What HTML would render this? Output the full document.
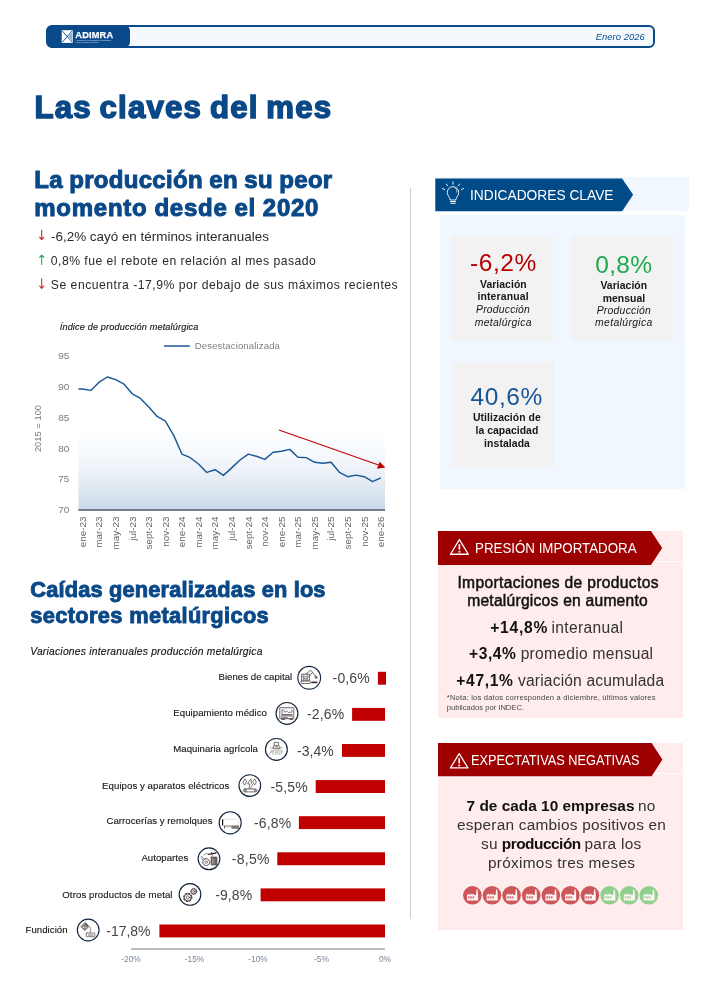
<!DOCTYPE html>
<html lang="es"><head><meta charset="utf-8"><title>Las claves del mes</title>
<style>
html,body{margin:0;padding:0;background:#fff}
body{width:702px;height:989px;position:relative;overflow:hidden;font-family:"Liberation Sans",sans-serif}
.abs{position:absolute}
.t{position:absolute;white-space:nowrap;margin:0}
.t b{font-weight:700;color:#111}
.bar{position:absolute;height:12.8px;background:#c00000}
.card{position:absolute;background:#f2f2f2}
</style></head><body>
<!-- header -->
<div class="abs" style="left:46px;top:25px;width:609px;height:23px;box-sizing:border-box;border:2px solid #0a4a8b;border-radius:6px;background:#f4f9fe"></div>
<div class="abs" style="left:46px;top:25px;width:84px;height:23px;background:#0a4a8b;border-radius:8px 6px 6px 8px"></div>
<svg class="abs" style="left:61px;top:30px" width="13" height="13" viewBox="0 0 13 13"><rect x="0.7" y="0.2" width="11.1" height="12.7" fill="#fff"/><path d="M11.2 2.2 7.4 6.5 11.2 10.8z" fill="#0a4a8b" opacity="0.45"/><path d="M1.3 0.9 11.2 12.2M11.2 0.9 1.3 12.2" stroke="#0a4a8b" stroke-width="0.9"/></svg>
<div class="t" style="left:75.3px;top:30px;font-size:9.2px;font-weight:700;color:#fff;line-height:1.2;letter-spacing:0.2px;-webkit-text-stroke:0.25px #fff">ADIMRA</div>
<div class="t" style="left:75.8px;top:38.5px;font-size:2px;color:#d5e1ef;line-height:1.2">Asociación de Industriales Metalúrgicos</div>
<div class="t" style="left:75.8px;top:40.5px;font-size:2px;color:#d5e1ef;line-height:1.2">de la República Argentina</div>
<!-- separator -->
<div class="abs" style="left:410px;top:188px;width:1px;height:731px;background:#cfcfcf"></div>
<!-- bullets arrows -->
<svg class="abs" style="left:36px;top:226px" width="12" height="70" viewBox="36 226 12 70" fill="none" stroke-width="1.05" stroke-linecap="round" stroke-linejoin="round">
<path d="M41.7 230v9.4M39.6 237.2l2.1 2.4 2.1-2.4" stroke="#d02020"/>
<path d="M41.7 264.4v-9.2M39.6 257.4l2.1-2.4 2.1 2.4" stroke="#1faa4f"/>
<path d="M41.7 278.8v9.4M39.6 286l2.1 2.4 2.1-2.4" stroke="#d02020"/>
</svg>
<svg class="abs" style="left:0;top:300px" width="420" height="270" viewBox="0 300 420 270">
<defs><linearGradient id="g1" x1="0" y1="0" x2="0" y2="1"><stop offset="0" stop-color="#fdfeff"/><stop offset="0.3" stop-color="#f6f9fc"/><stop offset="0.55" stop-color="#eaf0f6"/><stop offset="0.8" stop-color="#dae5ef"/><stop offset="1" stop-color="#c8d9e8"/></linearGradient></defs>
<rect x="78.4" y="431.5" width="306.6" height="78" fill="url(#g1)"/>
<rect x="78.4" y="509.1" width="306.6" height="1.8" fill="#69727e"/>
<line x1="164" y1="346" x2="189.8" y2="346" stroke="#1c5797" stroke-width="1.5"/>
<polyline points="78.4,389.0 82.5,389.0 90.8,390.4 99.1,382.2 107.4,377.0 115.7,379.6 124.0,384.2 132.3,393.8 140.5,398.4 148.8,407.0 157.1,416.4 165.4,421.2 173.7,435.4 182.0,454.2 190.3,457.7 198.5,464.0 206.8,472.4 215.1,469.7 223.4,475.4 231.7,467.9 240.0,460.0 248.3,454.1 256.5,456.3 264.8,459.4 273.1,452.2 281.4,451.3 289.7,449.4 298.0,457.2 306.3,457.6 314.6,462.3 322.8,463.2 331.1,462.3 339.4,472.3 347.7,476.7 356.0,475.1 364.3,476.7 372.6,481.7 380.8,477.9" fill="none" stroke="#1a5896" stroke-width="1.45" stroke-linejoin="round"/>
<line x1="279" y1="430" x2="378.5" y2="464.9" stroke="#c00000" stroke-width="1.05"/>
<polygon points="385.4,467.4 379.6,461.7 376.9,468.8" fill="#c00000"/>
<g font-family="'Liberation Sans', sans-serif" font-size="9.5" fill="#7a7a7a"><text x="58.2" y="359.1" textLength="11.2" lengthAdjust="spacingAndGlyphs">95</text><text x="58.2" y="390.4" textLength="11.2" lengthAdjust="spacingAndGlyphs">90</text><text x="58.2" y="421.2" textLength="11.2" lengthAdjust="spacingAndGlyphs">85</text><text x="58.2" y="451.9" textLength="11.2" lengthAdjust="spacingAndGlyphs">80</text><text x="58.2" y="482.4" textLength="11.2" lengthAdjust="spacingAndGlyphs">75</text><text x="58.2" y="513.2" textLength="11.2" lengthAdjust="spacingAndGlyphs">70</text>
<text transform="translate(41.2,428.5) rotate(-90)" text-anchor="middle" font-size="9.4">2015 = 100</text>
</g>
<g font-family="'Liberation Sans', sans-serif" font-size="9.9" fill="#666666"><text transform="translate(85.8,516.5) rotate(-90)" text-anchor="end">ene-23</text><text transform="translate(102.4,516.5) rotate(-90)" text-anchor="end">mar-23</text><text transform="translate(119.0,516.5) rotate(-90)" text-anchor="end">may-23</text><text transform="translate(135.6,516.5) rotate(-90)" text-anchor="end">jul-23</text><text transform="translate(152.1,516.5) rotate(-90)" text-anchor="end">sept-23</text><text transform="translate(168.7,516.5) rotate(-90)" text-anchor="end">nov-23</text><text transform="translate(185.3,516.5) rotate(-90)" text-anchor="end">ene-24</text><text transform="translate(201.8,516.5) rotate(-90)" text-anchor="end">mar-24</text><text transform="translate(218.4,516.5) rotate(-90)" text-anchor="end">may-24</text><text transform="translate(235.0,516.5) rotate(-90)" text-anchor="end">jul-24</text><text transform="translate(251.6,516.5) rotate(-90)" text-anchor="end">sept-24</text><text transform="translate(268.1,516.5) rotate(-90)" text-anchor="end">nov-24</text><text transform="translate(284.7,516.5) rotate(-90)" text-anchor="end">ene-25</text><text transform="translate(301.3,516.5) rotate(-90)" text-anchor="end">mar-25</text><text transform="translate(317.9,516.5) rotate(-90)" text-anchor="end">may-25</text><text transform="translate(334.4,516.5) rotate(-90)" text-anchor="end">jul-25</text><text transform="translate(351.0,516.5) rotate(-90)" text-anchor="end">sept-25</text><text transform="translate(367.6,516.5) rotate(-90)" text-anchor="end">nov-25</text><text transform="translate(384.1,516.5) rotate(-90)" text-anchor="end">ene-26</text></g>
</svg>
<!-- right: indicadores -->
<div class="abs" style="left:435.3px;top:177.2px;width:253.6px;height:33.8px;background:#f0f7fe"></div>
<svg class="abs" style="left:435px;top:178px" width="200" height="34" viewBox="0 0 200 34"><path d="M0.3 0.4H187.1L198.1 16.8 187.1 33.2H0.3z" fill="#004a87"/>
<g transform="translate(-1 0.3)" fill="none" stroke="#fff" stroke-width="0.9" stroke-linecap="round"><path d="M21.3 9.6a3.6 3.6 0 0 1 1.6 4.2" stroke-width="0.7"/><path d="M16.2 21.3c0-2.2-2.9-3.6-2.9-7.2a5.7 5.7 0 0 1 11.4 0c0 3.6-2.9 5-2.9 7.2z"/><path d="M16.4 23.2h5.2M16.9 25h4.2" stroke-width="1.1"/><path d="M19 6V3.6M13.7 7.6l-1.4-1.9M24.3 7.6l1.4-1.9M10.6 11.3 8.4 10.2M27.4 11.3l2.2-1.1"/></g></svg>
<div class="abs" style="left:440.1px;top:215px;width:244.9px;height:274px;background:#f0f7fe"></div>
<div class="card" style="left:451px;top:236px;width:102.1px;height:105.3px"></div>
<div class="card" style="left:571px;top:236px;width:102.1px;height:105.3px"></div>
<div class="card" style="left:452.2px;top:362.2px;width:101.6px;height:105.3px"></div>
<!-- right: presion -->
<div class="abs" style="left:438px;top:531px;width:245px;height:30.3px;background:#ffecec"></div>
<div class="abs" style="left:438px;top:562.2px;width:245px;height:155.6px;background:#ffecec"></div>
<svg class="abs" style="left:438px;top:531px" width="226" height="34" viewBox="0 0 226 34"><path d="M0 0H213L224.2 17 213 34H0z" fill="#9c0000"/></svg>
<svg class="abs" style="left:449px;top:538.3px" width="20.8" height="17.7" viewBox="0 0 20 17"><path d="M10 1.6 18.6 15.6H1.4z" fill="none" stroke="#fff" stroke-width="1.25" stroke-linejoin="round"/><path d="M10 6v5.2" stroke="#fff" stroke-width="1.6"/><circle cx="10" cy="13.3" r="1" fill="#fff"/></svg>
<!-- right: expectativas -->
<div class="abs" style="left:438px;top:743px;width:245px;height:29.6px;background:#ffecec"></div>
<div class="abs" style="left:438px;top:774px;width:245px;height:155.8px;background:#ffecec"></div>
<svg class="abs" style="left:438px;top:743px" width="226" height="34" viewBox="0 0 226 34"><path d="M0 0H213.6L224.4 16.6 213.6 33.2H0z" fill="#9c0000"/></svg>
<svg class="abs" style="left:449px;top:751.8px" width="20.4" height="17.4" viewBox="0 0 20 17"><path d="M10 1.6 18.6 15.6H1.4z" fill="none" stroke="#fff" stroke-width="1.25" stroke-linejoin="round"/><path d="M10 6v5.2" stroke="#fff" stroke-width="1.6"/><circle cx="10" cy="13.3" r="1" fill="#fff"/></svg>
<svg class="abs" style="left:455px;top:880px" width="220" height="32" viewBox="455 880 220 32"><g transform="translate(472.4,895.3)"><circle r="9.3" fill="#cd565a"/><path d="M-5.4 5.2V-0.2l2.3-1.6v1.6l2.3-1.6v1.6l2.3-1.6v1.6h2.1L4.1-5.9h1.1L5.7-0.2V5.2z" fill="#fff5f5"/><path d="M-4.5 1h1.7v2.3h-1.7zM-2.2 1h1.7v2.3h-1.7zM0.1 1h1.7v2.3h-1.7z" fill="#cd565a" opacity="0.8"/></g><g transform="translate(492.0,895.3)"><circle r="9.3" fill="#cd565a"/><path d="M-5.4 5.2V-0.2l2.3-1.6v1.6l2.3-1.6v1.6l2.3-1.6v1.6h2.1L4.1-5.9h1.1L5.7-0.2V5.2z" fill="#fff5f5"/><path d="M-4.5 1h1.7v2.3h-1.7zM-2.2 1h1.7v2.3h-1.7zM0.1 1h1.7v2.3h-1.7z" fill="#cd565a" opacity="0.8"/></g><g transform="translate(511.6,895.3)"><circle r="9.3" fill="#cd565a"/><path d="M-5.4 5.2V-0.2l2.3-1.6v1.6l2.3-1.6v1.6l2.3-1.6v1.6h2.1L4.1-5.9h1.1L5.7-0.2V5.2z" fill="#fff5f5"/><path d="M-4.5 1h1.7v2.3h-1.7zM-2.2 1h1.7v2.3h-1.7zM0.1 1h1.7v2.3h-1.7z" fill="#cd565a" opacity="0.8"/></g><g transform="translate(531.2,895.3)"><circle r="9.3" fill="#cd565a"/><path d="M-5.4 5.2V-0.2l2.3-1.6v1.6l2.3-1.6v1.6l2.3-1.6v1.6h2.1L4.1-5.9h1.1L5.7-0.2V5.2z" fill="#fff5f5"/><path d="M-4.5 1h1.7v2.3h-1.7zM-2.2 1h1.7v2.3h-1.7zM0.1 1h1.7v2.3h-1.7z" fill="#cd565a" opacity="0.8"/></g><g transform="translate(550.8,895.3)"><circle r="9.3" fill="#cd565a"/><path d="M-5.4 5.2V-0.2l2.3-1.6v1.6l2.3-1.6v1.6l2.3-1.6v1.6h2.1L4.1-5.9h1.1L5.7-0.2V5.2z" fill="#fff5f5"/><path d="M-4.5 1h1.7v2.3h-1.7zM-2.2 1h1.7v2.3h-1.7zM0.1 1h1.7v2.3h-1.7z" fill="#cd565a" opacity="0.8"/></g><g transform="translate(570.4,895.3)"><circle r="9.3" fill="#cd565a"/><path d="M-5.4 5.2V-0.2l2.3-1.6v1.6l2.3-1.6v1.6l2.3-1.6v1.6h2.1L4.1-5.9h1.1L5.7-0.2V5.2z" fill="#fff5f5"/><path d="M-4.5 1h1.7v2.3h-1.7zM-2.2 1h1.7v2.3h-1.7zM0.1 1h1.7v2.3h-1.7z" fill="#cd565a" opacity="0.8"/></g><g transform="translate(590.0,895.3)"><circle r="9.3" fill="#cd565a"/><path d="M-5.4 5.2V-0.2l2.3-1.6v1.6l2.3-1.6v1.6l2.3-1.6v1.6h2.1L4.1-5.9h1.1L5.7-0.2V5.2z" fill="#fff5f5"/><path d="M-4.5 1h1.7v2.3h-1.7zM-2.2 1h1.7v2.3h-1.7zM0.1 1h1.7v2.3h-1.7z" fill="#cd565a" opacity="0.8"/></g><g transform="translate(609.6,895.3)"><circle r="9.3" fill="#8fd08d"/><path d="M-5.4 5.2V-0.2l2.3-1.6v1.6l2.3-1.6v1.6l2.3-1.6v1.6h2.1L4.1-5.9h1.1L5.7-0.2V5.2z" fill="#fff5f5"/><path d="M-4.5 1h1.7v2.3h-1.7zM-2.2 1h1.7v2.3h-1.7zM0.1 1h1.7v2.3h-1.7z" fill="#8fd08d" opacity="0.8"/></g><g transform="translate(629.2,895.3)"><circle r="9.3" fill="#8fd08d"/><path d="M-5.4 5.2V-0.2l2.3-1.6v1.6l2.3-1.6v1.6l2.3-1.6v1.6h2.1L4.1-5.9h1.1L5.7-0.2V5.2z" fill="#fff5f5"/><path d="M-4.5 1h1.7v2.3h-1.7zM-2.2 1h1.7v2.3h-1.7zM0.1 1h1.7v2.3h-1.7z" fill="#8fd08d" opacity="0.8"/></g><g transform="translate(648.8,895.3)"><circle r="9.3" fill="#8fd08d"/><path d="M-5.4 5.2V-0.2l2.3-1.6v1.6l2.3-1.6v1.6l2.3-1.6v1.6h2.1L4.1-5.9h1.1L5.7-0.2V5.2z" fill="#fff5f5"/><path d="M-4.5 1h1.7v2.3h-1.7zM-2.2 1h1.7v2.3h-1.7zM0.1 1h1.7v2.3h-1.7z" fill="#8fd08d" opacity="0.8"/></g></svg>
<!-- bars -->
<svg class="abs" style="left:0;top:660px" width="420" height="300" viewBox="0 660 420 300" fill="#c00000"><rect x="377.9" y="671.8" width="8.1" height="12.9"/><rect x="352.1" y="707.9" width="32.9" height="12.9"/><rect x="342.0" y="744.0" width="43.0" height="12.9"/><rect x="315.7" y="780.1" width="69.3" height="12.9"/><rect x="298.9" y="816.2" width="86.1" height="12.9"/><rect x="277.3" y="852.3" width="107.7" height="12.9"/><rect x="260.6" y="888.4" width="124.4" height="12.9"/><rect x="159.4" y="924.5" width="225.6" height="12.9"/></svg>
<svg class="abs" style="left:0;top:660px" width="420" height="300" viewBox="0 660 420 300"><g transform="translate(309.2,677.8)"><circle r="11.4" fill="#fff" stroke="#14263f" stroke-width="1.15"/><g stroke="#4c4040" stroke-width="0.75" fill="none" stroke-linecap="round" stroke-linejoin="round"><rect x="-7.2" y="-3.6" width="7.6" height="6"/><path d="M-5.4-3.4v5.6M-2-3.4v5.6M-7-1h7.2M-5.4 0.8h3.4" stroke-width="0.6"/><rect x="-8.2" y="3.3" width="9.6" height="2.4" rx="0.6" fill="#fff"/><path d="M-3.4-3.8 1.7-7.7 5-3.2 7.4-0.2M0.6-2 3.2-5.4M6-1.6l2.4 1-1.4 1.4z"/><path d="M2.2 4.6h6" stroke="#3a3030" stroke-width="1.7" stroke-linecap="butt"/></g></g><g transform="translate(287.0,713.4)"><circle r="10.95" fill="#fff" stroke="#14263f" stroke-width="1.15"/><g stroke="#4c4040" stroke-width="0.75" fill="none" stroke-linecap="round" stroke-linejoin="round"><rect x="-6.8" y="-5.9" width="13.6" height="11.2" fill="#fff"/><rect x="-6.4" y="-5.6" width="12.8" height="1.6" fill="#dcdcdc" stroke="none"/><path d="M-5 0.2v-3.6l1.6 0.2 1.6 2.2 1.4-1.6 1.6 1.8 1.8-0.6 2 0.4v-2.4" stroke-width="0.7"/><path d="M-5.2 1.5h10.4" stroke-width="1.1"/><path d="M-5.2 2.8h10.4v2.3h-10.4z" stroke-width="0.5"/><path d="M-4.4 4h4.6" stroke="#5b6b84" stroke-width="0.9"/><path d="M-5 6.1h2.4M3 6.1h2.4" stroke="#3a3030" stroke-width="0.8"/></g></g><g transform="translate(276.4,749.4)"><circle r="10.95" fill="#fff" stroke="#14263f" stroke-width="1.15"/><g stroke="#4c4040" stroke-width="0.75" fill="none" stroke-linecap="round" stroke-linejoin="round"><rect x="-6.5" y="-2.2" width="13" height="1.4" fill="#cfcfcf" stroke="none"/><path d="M-2-7h4.2v3h-4.2z M-2-4l-1.3 1v2.4h6.8v-2.4l-1.3-1 M-1-2.6h2.4" stroke-width="0.7"/><path d="M-5 0.8l-1.6 4 M-3.6 0.8l-1 2.2 M-2.6 1.2l-1 4 M-0.6 0.8v4.6 M0.8 1v3 M2.4 0.8l0.4 4.4 M3.8 0.8c1.4 0.6 1.6 2.4 0.8 4 M5.4 0.8l0.4 2" stroke="#7b7070" stroke-width="0.55"/></g></g><g transform="translate(249.8,785.6)"><circle r="10.85" fill="#fff" stroke="#14263f" stroke-width="1.15"/><g stroke="#4c4040" stroke-width="0.75" fill="none" stroke-linecap="round" stroke-linejoin="round"><path d="M-5-6.4l-1.8 3.2 1.6 2.8 1.8-3z M5-6.4l1.6 3-1.8 2.8-1.6-3z" stroke-width="0.7"/><path d="M0.8-6.4l-3 4.6 2.2 0.2-0.8 4.4 M1.4-6l0.2 3.6 1.2 1.4-2.2 3.6" stroke-width="0.7"/><rect x="-6.4" y="3.1" width="13.4" height="3.4" rx="1.6" fill="#9a9090" stroke-width="0.5"/><rect x="-3" y="4" width="7" height="1.7" fill="#fff" stroke="none"/></g></g><g transform="translate(230.2,822.8)"><circle r="11.05" fill="#fff" stroke="#14263f" stroke-width="1.15"/><g stroke="#4c4040" stroke-width="0.75" fill="none" stroke-linecap="round" stroke-linejoin="round"><path d="M-7.6-3.6v6.2" stroke="#111" stroke-width="1.2" stroke-linecap="butt"/><path d="M-7-3.5h15.6v6" stroke="#d0d0d0" stroke-width="0.6"/><path d="M-6 3.2h14.4" stroke-width="0.7"/><path d="M-5.6 3.2v2.6" stroke-width="0.9" stroke-linecap="butt"/><path d="M-4 4.2h5.6" stroke="#b0a8a8" stroke-width="0.6"/><rect x="2" y="3.6" width="6.2" height="2" fill="#8a8080" stroke-width="0.5"/></g></g><g transform="translate(209.0,858.8)"><circle r="10.85" fill="#fff" stroke="#14263f" stroke-width="1.15"/><g stroke="#4c4040" stroke-width="0.75" fill="none" stroke-linecap="round" stroke-linejoin="round"><circle cx="-2.8" cy="3.3" r="3.4" stroke-dasharray="1.1 0.6" stroke-width="0.9"/><circle cx="-2.8" cy="3.3" r="1.3" stroke-width="0.6"/><path d="M-8-2.2l2 0.8 1.6 2 M-7.4-0.6l1 1.6 M-5-3.6l2.4-2 1.4 0.8" stroke-width="0.6"/><rect x="2" y="-1.8" width="6" height="8" rx="0.5" fill="#6c6262" stroke-width="0.6"/><path d="M3.4-0.4v5.6M5 0.6v4.8" stroke="#cfc8c8" stroke-width="0.5"/><path d="M-0.6-4.4 7-5.8" stroke="#3a3030" stroke-width="1.3"/><path d="M2.4-6.4l1 2.8" stroke-width="0.8"/></g></g><g transform="translate(190.0,894.4)"><circle r="10.85" fill="#fff" stroke="#14263f" stroke-width="1.15"/><g stroke="#4c4040" stroke-width="0.75" fill="none" stroke-linecap="round" stroke-linejoin="round"><circle cx="-2.2" cy="3" r="3.5" stroke-width="0.9"/><circle cx="-2.2" cy="3" r="4.1" stroke-dasharray="1.5 1.72" stroke-width="1.1"/><circle cx="-2.2" cy="3" r="1.6" stroke-width="0.7"/><circle cx="3.8" cy="-3" r="2.5" stroke-width="0.8"/><circle cx="3.8" cy="-3" r="3" stroke-dasharray="1.1 1.25" stroke-width="0.9"/><circle cx="3.8" cy="-3" r="1" stroke-width="0.7"/></g></g><g transform="translate(88.2,930.0)"><circle r="10.85" fill="#fff" stroke="#14263f" stroke-width="1.15"/><g stroke="#4c4040" stroke-width="0.75" fill="none" stroke-linecap="round" stroke-linejoin="round"><path d="M-2.8-7.4 0.8-3.6-3.4 0.6-7.2-3.2z" fill="#8d8383" stroke-width="0.6"/><path d="M-2.8-7.2 0.4-3.8-2-4.6z" fill="#4a4040" stroke="none"/><circle cx="-4.6" cy="-2.6" r="0.6" fill="#fff" stroke="none"/><circle cx="-2.2" cy="-2.4" r="0.6" fill="#fff" stroke="none"/><path d="M0.6-3.6 2.2-2.6V3" stroke="#a59c9c" stroke-width="1.1"/><rect x="-2" y="3" width="8.6" height="3.7" rx="0.5" fill="#fff" stroke-width="0.7"/><rect x="-0.4" y="4.2" width="5.4" height="1.6" fill="#a8a0a0" stroke="none"/></g></g><rect x="131.2" y="948.2" width="253.7" height="1.7" fill="#b3b0b0"/></svg>
<!-- texts -->
<div class="t" style="left:595.72px;top:31px;font-size:9.4px;line-height:1.2;color:#0a4a8b;font-style:italic;letter-spacing:0.048px;">Enero 2026</div>
<div class="t" style="left:34.46px;top:89px;font-size:31.2px;line-height:1.2;color:#0a4888;font-weight:700;letter-spacing:1.181px;word-spacing:-2px;-webkit-text-stroke:1.5px #0a4888;">Las claves del mes</div>
<div class="t" style="left:34.28px;top:166px;font-size:24px;line-height:1.2;color:#0a4888;font-weight:700;letter-spacing:0.286px;word-spacing:-0.5px;-webkit-text-stroke:1.0px #0a4888;">La producción en su peor</div>
<div class="t" style="left:34.28px;top:194px;font-size:24px;line-height:1.2;color:#0a4888;font-weight:700;letter-spacing:0.746px;word-spacing:-0.5px;-webkit-text-stroke:1.0px #0a4888;">momento desde el 2020</div>
<div class="t" style="left:50.83px;top:230px;font-size:12.2px;line-height:1.2;color:#2a2a2a;transform:scaleX(1.1016);transform-origin:0 0;">-6,2% cayó en términos interanuales</div>
<div class="t" style="left:50.83px;top:254px;font-size:12.2px;line-height:1.2;color:#2a2a2a;letter-spacing:0.476px;">0,8% fue el rebote en relación al mes pasado</div>
<div class="t" style="left:50.83px;top:278px;font-size:12.2px;line-height:1.2;color:#2a2a2a;letter-spacing:0.501px;">Se encuentra -17,9% por debajo de sus máximos recientes</div>
<div class="t" style="left:59.73px;top:322px;font-size:9.1px;line-height:1.2;color:#161616;font-style:italic;letter-spacing:0.168px;-webkit-text-stroke:0.15px #161616;">Índice de producción metalúrgica</div>
<div class="t" style="left:194.71px;top:340px;font-size:9.6px;line-height:1.2;color:#808080;letter-spacing:0.121px;">Desestacionalizada</div>
<div class="t" style="left:30.35px;top:577px;font-size:21.8px;line-height:1.2;color:#0a4888;font-weight:700;letter-spacing:0.169px;-webkit-text-stroke:0.9px #0a4888;">Caídas generalizadas en los</div>
<div class="t" style="left:30.35px;top:603px;font-size:21.8px;line-height:1.2;color:#0a4888;font-weight:700;letter-spacing:0.348px;-webkit-text-stroke:0.9px #0a4888;">sectores metalúrgicos</div>
<div class="t" style="left:30.19px;top:646px;font-size:10.3px;line-height:1.2;color:#161616;font-style:italic;letter-spacing:0.228px;-webkit-text-stroke:0.15px #161616;">Variaciones interanuales producción metalúrgica</div>
<div class="t" style="left:218.51px;top:671px;font-size:9.6px;line-height:1.2;color:#141414;letter-spacing:0.041px;-webkit-text-stroke:0.12px #141414;">Bienes de capital</div>
<div class="t" style="left:332.58px;top:670px;font-size:14px;line-height:1.2;color:#444444;letter-spacing:0.152px;">-0,6%</div>
<div class="t" style="left:173.31px;top:707px;font-size:9.6px;line-height:1.2;color:#141414;letter-spacing:0.074px;-webkit-text-stroke:0.12px #141414;">Equipamiento médico</div>
<div class="t" style="left:306.98px;top:706px;font-size:14px;line-height:1.2;color:#444444;letter-spacing:0.152px;">-2,6%</div>
<div class="t" style="left:173.31px;top:743px;font-size:9.6px;line-height:1.2;color:#141414;letter-spacing:0.022px;-webkit-text-stroke:0.12px #141414;">Maquinaria agrícola</div>
<div class="t" style="left:296.98px;top:743px;font-size:14px;line-height:1.2;color:#444444;letter-spacing:0.032px;">-3,4%</div>
<div class="t" style="left:102.11px;top:780px;font-size:9.6px;line-height:1.2;color:#141414;letter-spacing:0.067px;-webkit-text-stroke:0.12px #141414;">Equipos y aparatos eléctricos</div>
<div class="t" style="left:270.58px;top:779px;font-size:14px;line-height:1.2;color:#444444;letter-spacing:0.112px;">-5,5%</div>
<div class="t" style="left:106.51px;top:815px;font-size:9.6px;line-height:1.2;color:#141414;letter-spacing:0.045px;-webkit-text-stroke:0.12px #141414;">Carrocerías y remolques</div>
<div class="t" style="left:253.88px;top:815px;font-size:14px;line-height:1.2;color:#444444;letter-spacing:0.172px;">-6,8%</div>
<div class="t" style="left:141.41px;top:852px;font-size:9.6px;line-height:1.2;color:#141414;letter-spacing:0.047px;-webkit-text-stroke:0.12px #141414;">Autopartes</div>
<div class="t" style="left:231.78px;top:851px;font-size:14px;line-height:1.2;color:#444444;letter-spacing:0.272px;">-8,5%</div>
<div class="t" style="left:62.31px;top:889px;font-size:9.6px;line-height:1.2;color:#141414;letter-spacing:0.107px;-webkit-text-stroke:0.12px #141414;">Otros productos de metal</div>
<div class="t" style="left:215.18px;top:887px;font-size:14px;line-height:1.2;color:#444444;letter-spacing:0.092px;">-9,8%</div>
<div class="t" style="left:25.51px;top:924px;font-size:9.6px;line-height:1.2;color:#141414;letter-spacing:0.063px;-webkit-text-stroke:0.12px #141414;">Fundición</div>
<div class="t" style="left:106.28px;top:923px;font-size:14px;line-height:1.2;color:#444444;letter-spacing:-0.037px;">-17,8%</div>
<div class="t" style="left:121.22px;top:954px;font-size:8.4px;line-height:1.2;color:#77869a;">-20%</div>
<div class="t" style="left:184.72px;top:954px;font-size:8.4px;line-height:1.2;color:#77869a;">-15%</div>
<div class="t" style="left:248.22px;top:954px;font-size:8.4px;line-height:1.2;color:#77869a;">-10%</div>
<div class="t" style="left:314.05px;top:954px;font-size:8.4px;line-height:1.2;color:#77869a;">-5%</div>
<div class="t" style="left:378.95px;top:954px;font-size:8.4px;line-height:1.2;color:#77869a;">0%</div>
<div class="t" style="left:469.74px;top:186px;font-size:15.5px;line-height:1.2;color:#ffffff;transform:scaleX(0.8880);transform-origin:0 0;">INDICADORES CLAVE</div>
<div class="t" style="left:470.06px;top:248px;font-size:24.5px;line-height:1.2;color:#b50000;letter-spacing:0.571px;">-6,2%</div>
<div class="t" style="left:479.99px;top:279px;font-size:10.4px;line-height:1.2;color:#161616;font-weight:700;letter-spacing:0.056px;">Variación</div>
<div class="t" style="left:477.39px;top:291px;font-size:10.4px;line-height:1.2;color:#161616;font-weight:700;letter-spacing:0.177px;">interanual</div>
<div class="t" style="left:476.09px;top:304px;font-size:10.4px;line-height:1.2;color:#161616;font-style:italic;letter-spacing:0.194px;">Producción</div>
<div class="t" style="left:474.79px;top:317px;font-size:10.4px;line-height:1.2;color:#161616;font-style:italic;letter-spacing:0.300px;">metalúrgica</div>
<div class="t" style="left:595.16px;top:250px;font-size:24.5px;line-height:1.2;color:#1faa4f;letter-spacing:0.357px;">0,8%</div>
<div class="t" style="left:600.39px;top:280px;font-size:10.4px;line-height:1.2;color:#161616;font-weight:700;letter-spacing:0.067px;">Variación</div>
<div class="t" style="left:602.69px;top:293px;font-size:10.4px;line-height:1.2;color:#161616;font-weight:700;letter-spacing:0.067px;">mensual</div>
<div class="t" style="left:596.69px;top:305px;font-size:10.4px;line-height:1.2;color:#161616;font-style:italic;letter-spacing:0.244px;">Producción</div>
<div class="t" style="left:595.09px;top:317px;font-size:10.4px;line-height:1.2;color:#161616;font-style:italic;letter-spacing:0.355px;">metalúrgica</div>
<div class="t" style="left:470.56px;top:382px;font-size:24.5px;line-height:1.2;color:#1a5596;letter-spacing:0.560px;">40,6%</div>
<div class="t" style="left:472.99px;top:412px;font-size:10.4px;line-height:1.2;color:#161616;font-weight:700;letter-spacing:0.060px;">Utilización de</div>
<div class="t" style="left:475.59px;top:425px;font-size:10.4px;line-height:1.2;color:#161616;font-weight:700;letter-spacing:0.029px;">la capacidad</div>
<div class="t" style="left:484.09px;top:438px;font-size:10.4px;line-height:1.2;color:#161616;font-weight:700;letter-spacing:0.097px;">instalada</div>
<div class="t" style="left:474.56px;top:540px;font-size:14.6px;line-height:1.2;color:#ffffff;transform:scaleX(0.9126);transform-origin:0 0;">PRESIÓN IMPORTADORA</div>
<div class="t" style="left:457.43px;top:574px;font-size:15.6px;line-height:1.2;color:#111111;letter-spacing:0.346px;-webkit-text-stroke:0.5px #111;">Importaciones de productos</div>
<div class="t" style="left:467.23px;top:592px;font-size:15.6px;line-height:1.2;color:#111111;letter-spacing:0.245px;-webkit-text-stroke:0.5px #111;">metalúrgicos en aumento</div>
<div class="t" style="left:490.13px;top:619px;font-size:15.6px;line-height:1.2;color:#111111;font-weight:700;letter-spacing:0.768px;">+14,8%</div>
<div class="t" style="left:551.53px;top:619px;font-size:15.6px;line-height:1.2;color:#333333;letter-spacing:0.324px;">interanual</div>
<div class="t" style="left:469.03px;top:645px;font-size:15.6px;line-height:1.2;color:#111111;font-weight:700;letter-spacing:0.556px;">+3,4%</div>
<div class="t" style="left:520.63px;top:645px;font-size:15.6px;line-height:1.2;color:#333333;letter-spacing:0.277px;">promedio mensual</div>
<div class="t" style="left:456.33px;top:672px;font-size:15.6px;line-height:1.2;color:#111111;font-weight:700;letter-spacing:0.651px;">+47,1%</div>
<div class="t" style="left:518.03px;top:672px;font-size:15.6px;line-height:1.2;color:#333333;letter-spacing:0.169px;">variación acumulada</div>
<div class="t" style="left:446.77px;top:693px;font-size:7.6px;line-height:1.2;color:#444444;letter-spacing:0.182px;">*Nota: los datos corresponden a diciembre, últimos valores</div>
<div class="t" style="left:446.77px;top:703px;font-size:7.6px;line-height:1.2;color:#444444;">publicados por INDEC.</div>
<div class="t" style="left:470.87px;top:752px;font-size:14.2px;line-height:1.2;color:#ffffff;transform:scaleX(0.9014);transform-origin:0 0;">EXPECTATIVAS NEGATIVAS</div>
<div class="t" style="left:466.54px;top:797px;font-size:15.4px;line-height:1.2;color:#111111;font-weight:700;letter-spacing:0.011px;">7 de cada 10 empresas</div>
<div class="t" style="left:637.94px;top:797px;font-size:15.4px;line-height:1.2;color:#333333;letter-spacing:0.250px;">no</div>
<div class="t" style="left:457.04px;top:816px;font-size:15.4px;line-height:1.2;color:#333333;letter-spacing:0.227px;">esperan cambios positivos en</div>
<div class="t" style="left:481.04px;top:835px;font-size:15.4px;line-height:1.2;color:#333333;letter-spacing:0.329px;">su</div>
<div class="t" style="left:501.74px;top:835px;font-size:15.4px;line-height:1.2;color:#111111;font-weight:700;letter-spacing:-0.477px;">producción</div>
<div class="t" style="left:584.54px;top:835px;font-size:15.4px;line-height:1.2;color:#333333;letter-spacing:0.270px;">para los</div>
<div class="t" style="left:487.94px;top:854px;font-size:15.4px;line-height:1.2;color:#333333;letter-spacing:0.281px;">próximos tres meses</div>
</body></html>
